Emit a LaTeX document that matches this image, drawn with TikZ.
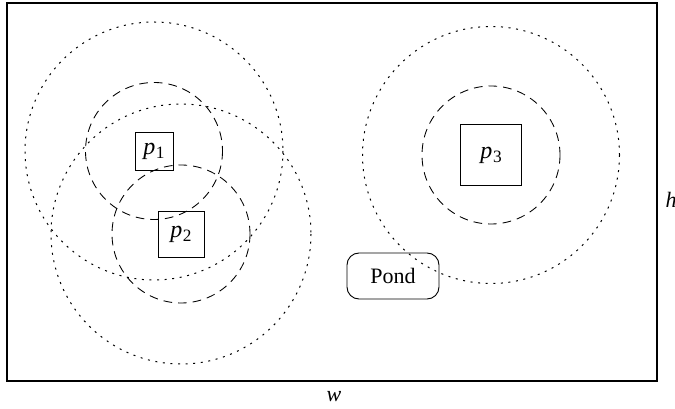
\documentclass[tikz,border=0pt]{standalone}
\usepackage{fontspec}
\setmainfont{Liberation Serif}
\newcommand{\pl}[1]{{\fontsize{18}{20}\selectfont\textit{p}}\kern0.03em\raisebox{-0.4ex}{\fontsize{13}{15}\selectfont #1}}
\begin{document}
\begin{tikzpicture}[x=0.75pt,y=-0.75pt,
  every node/.style={font=\fontsize{16.5}{19}\selectfont},
  frame/.style={draw,line width=1.5pt},
  pbox/.style={draw,line width=0.6pt,minimum width=#1,minimum height=#1,inner sep=0pt},
  pond/.style={draw,line width=0.7pt,rounded corners=9pt,minimum width=69pt,minimum height=34.5pt,inner sep=0pt},
  near/.style={draw,line width=0.65pt,dash pattern=on 6.5pt off 4.5pt},
  far/.style={draw,line width=0.75pt,dash pattern=on 1.5pt off 4.2pt}]
\useasboundingbox (0,0) rectangle (675,409);
\draw[frame] (7,3.5) rectangle (657,381);
\node[pbox=28.5pt] (p1) at (154,151) {\pl{1}};
\node[pbox=34.5pt] (p2) at (181,234) {\pl{2}};
\node[pbox=45.5pt] (p3) at (491,155) {\pl{3}};
\draw[near] (p1.center) circle (68.5);
\draw[near] (p2.center) circle (69);
\draw[near] (p3.center) circle (69);
\draw[far] (p1.center) circle (129);
\draw[far] (p2.center) circle (130);
\draw[far] (p3.center) circle (128.5);
\node[pond] (pond) at (393,276) {Pond};
\node (h) at (671,200) {\textit{h}};
\node (w) at (334,397) {\textit{w}};
\end{tikzpicture}
\end{document}
